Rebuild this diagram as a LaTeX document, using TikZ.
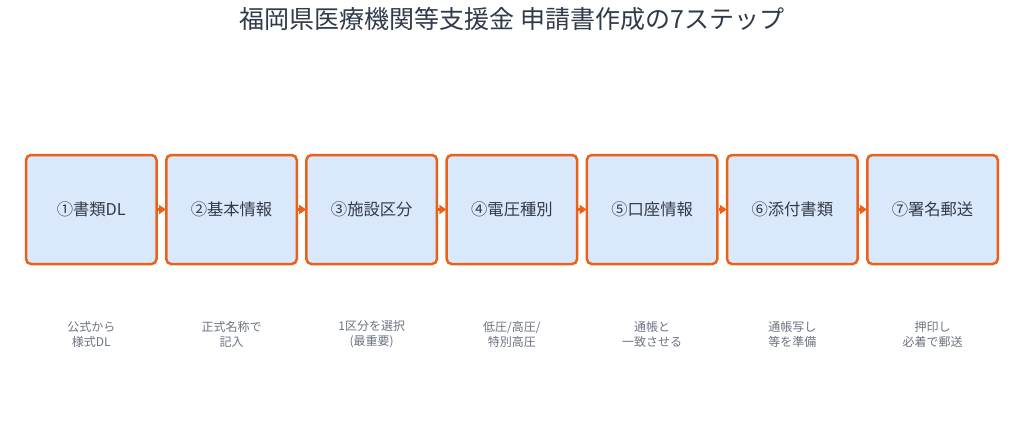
\documentclass[tikz,border=0pt]{standalone}
\usepackage{fontspec}
\setmainfont{Noto Sans CJK JP}
\usetikzlibrary{arrows.meta}
\definecolor{boxfill}{HTML}{DAE8FC}
\definecolor{boxline}{HTML}{EB6118}
\definecolor{titlecol}{HTML}{2F3A4A}
\definecolor{txtcol}{HTML}{333B47}
\definecolor{labcol}{HTML}{6B7280}
\tikzset{
  stepbox/.style={draw=boxline, fill=boxfill, line width=2.5pt, rounded corners=5pt,
    minimum width=130.5pt, minimum height=109pt, inner sep=0pt, text=txtcol,
    font=\fontsize{16.3}{19}\selectfont},
  lab/.style={text=labcol, align=center, font=\fontsize{12}{15}\selectfont},
  conn/.style={draw=boxline, line width=2.5pt, -{Triangle[length=7pt,width=9pt]}, shorten >=-1pt},
}
\begin{document}
\begin{tikzpicture}[x=1pt,y=-1pt]
\useasboundingbox (0,0) rectangle (1024,431);
\node[text=titlecol, font=\fontsize{25}{29}\selectfont] (title) at (512,19) {福岡県医療機関等支援金 申請書作成の7ステップ};
\node[stepbox] (s1) at (91.3,209.5) {①書類DL};
\node[stepbox] (s2) at (231.5,209.5) {②基本情報};
\node[stepbox] (s3) at (371.7,209.5) {③施設区分};
\node[stepbox] (s4) at (511.9,209.5) {④電圧種別};
\node[stepbox] (s5) at (652.1,209.5) {⑤口座情報};
\node[stepbox] (s6) at (792.3,209.5) {⑥添付書類};
\node[stepbox] (s7) at (932.5,209.5) {⑦署名郵送};
\node[lab] (l1) at (91.3,334.5) {公式から\\様式DL};
\node[lab] (l2) at (231.5,334.5) {正式名称で\\記入};
\node[lab] (l3) at (371.7,334.5) {1区分を選択\\(最重要)};
\node[lab] (l4) at (511.9,334.5) {低圧/高圧/\\特別高圧};
\node[lab] (l5) at (652.1,334.5) {通帳と\\一致させる};
\node[lab] (l6) at (792.3,334.5) {通帳写し\\等を準備};
\node[lab] (l7) at (932.5,334.5) {押印し\\必着で郵送};
\foreach \a/\b in {s1/s2,s2/s3,s3/s4,s4/s5,s5/s6,s6/s7}
  \draw[conn] (\a.east) -- (\b.west);
\end{tikzpicture}
\end{document}
